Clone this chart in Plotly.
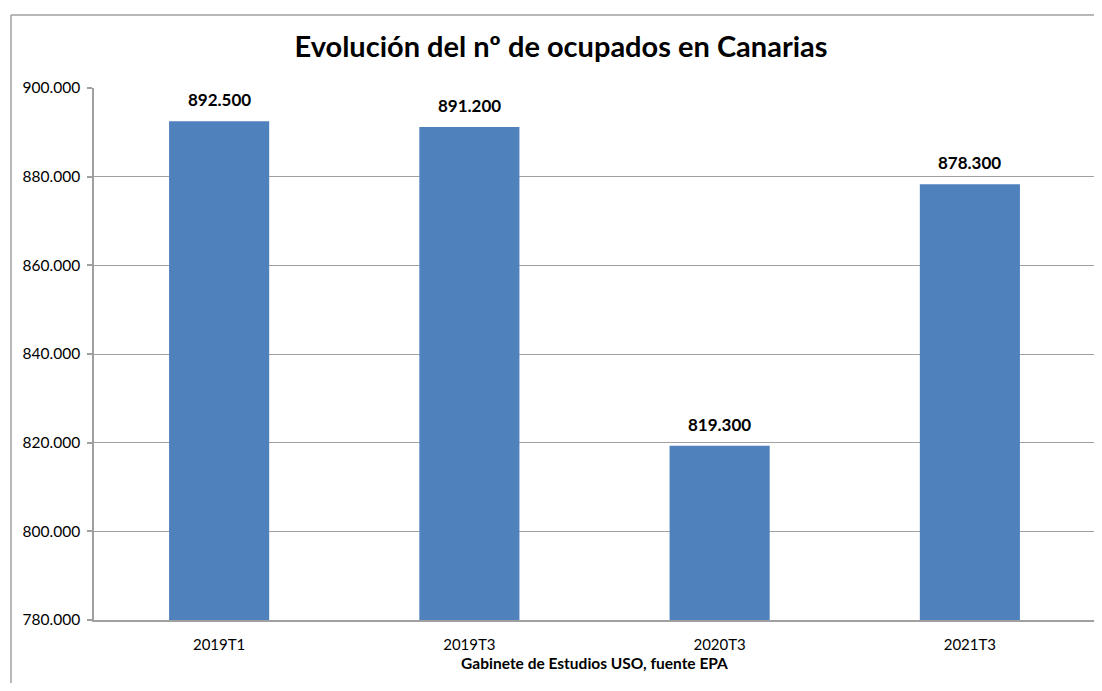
import plotly.graph_objects as go

categories = ["2019T1", "2019T3", "2020T3", "2021T3"]
ocupados = [892500, 891200, 819300, 878300]
y_ticks = [780000, 800000, 820000, 840000, 860000, 880000, 900000]

# page body has an 8px margin; figure sized so it ends at the window edge
OFF = 8
W, H = 1094, 675
L, R, T, B = 86, 7, 80, 63
pw, ph = W - L - R, H - T - B

fig = go.Figure()
fig.add_trace(go.Bar(
    x=categories, y=ocupados,
    marker=dict(color="#4F81BD", line=dict(width=0)),
    width=0.4,
    hoverinfo="x+y",
))

for c, v in zip(categories, ocupados):
    fig.add_annotation(
        x=c, y=v, text="<b>" + f"{v:,}".replace(",", ".") + "</b>",
        showarrow=False, yanchor="bottom", yshift=9,
        font=dict(family="Lato", size=17, color="#000000"),
    )

# chart-area border (left and top edges visible)
bx = (11 - OFF - L) / pw
by = (H - B - (15 - OFF)) / ph
fig.add_shape(type="line", xref="paper", yref="paper", x0=bx, x1=bx, y0=-0.5, y1=by,
              line=dict(color="#a0a0a0", width=1.5))
fig.add_shape(type="line", xref="paper", yref="paper", x0=bx, x1=1.5, y0=by, y1=by,
              line=dict(color="#a0a0a0", width=1.5))

fig.update_layout(
    width=W, height=H,
    margin=dict(l=L, r=R, t=T, b=B),
    paper_bgcolor="white", plot_bgcolor="white",
    separators=",.",
    showlegend=False,
    title=dict(
        text="<b>Evolución del nº de ocupados en Canarias</b>",
        x=(561 - OFF) / W, xref="container", xanchor="center",
        y=1 - (47 - OFF) / H, yref="container", yanchor="middle",
        font=dict(family="Lato", size=29, color="#000000"),
    ),
    xaxis=dict(
        showline=True, linecolor="#a0a0a0", linewidth=1.5,
        ticks="", showgrid=False,
        tickfont=dict(family="Lato", size=15, color="#000000"),
        ticklabelstandoff=10,
        title=dict(text="<b>Gabinete de Estudios USO, fuente EPA</b>",
                   font=dict(family="Lato", size=15.5, color="#000000"), standoff=6),
    ),
    yaxis=dict(
        range=[780000, 900000],
        tickvals=y_ticks, tickformat=",d",
        showline=True, linecolor="#a0a0a0", linewidth=1.5,
        ticks="outside", ticklen=5, tickcolor="#a0a0a0", tickwidth=1.5,
        showgrid=True, gridcolor="#a0a0a0", gridwidth=1,
        zeroline=False,
        tickfont=dict(family="Lato", size=15.5, color="#000000"),
        ticklabelstandoff=4,
    ),
)

fig.write_html("out.html")
